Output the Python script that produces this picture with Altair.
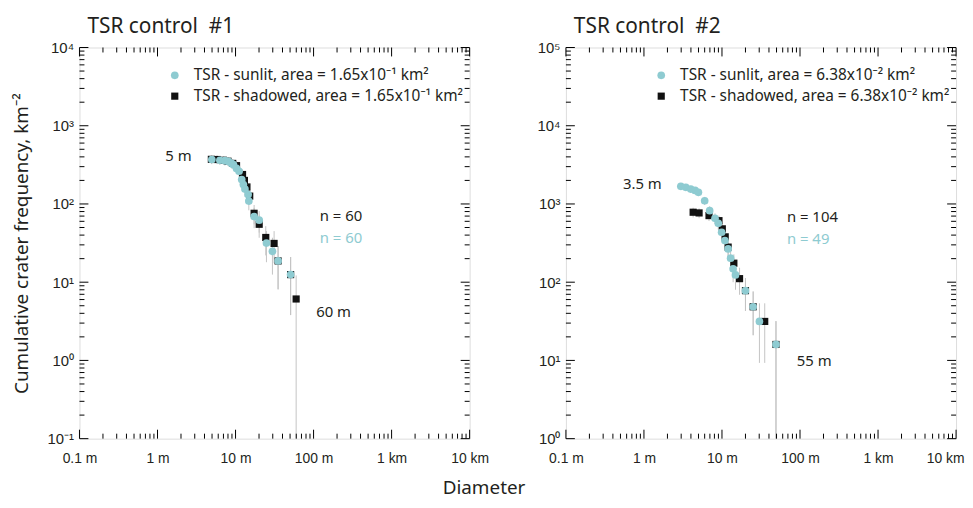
import altair as alt
import pandas as pd

W, H = 393, 394
BLUE = "#8ecbd1"
BLACK = "#111111"
GRAY = "#c4c4c4"
TXT = "#231f20"
TEXT_FONT = "Noto Sans"
TICK_FONT = "Liberation Sans"

# ---------------- axes ----------------
x_major = [0.1, 1, 10, 100, 1000, 10000]
x_labels = ["0.1 m", "1 m", "10 m", "100 m", "1 km", "10 km"]
x_minor = [m * 10.0 ** k for k in range(-1, 4) for m in range(2, 10)]

p1_y_major = [0.1, 1, 10, 100, 1000, 10000]
p1_y_labels = ["10⁻¹", "10⁰", "10¹", "10²", "10³", "10⁴"]
p1_y_minor = [m * 10.0 ** k for k in range(-1, 4) for m in range(2, 10)]

p2_y_major = [1, 10, 100, 1000, 10000, 100000]
p2_y_labels = ["10⁰", "10¹", "10²", "10³", "10⁴", "10⁵"]
p2_y_minor = [m * 10.0 ** k for k in range(0, 5) for m in range(2, 10)]

# ---------------- panel 1 data ----------------
p1_sun_d = [4.97, 6.3, 7.3, 8.1, 8.9, 9.4, 10.3, 11.1, 12.0, 12.6, 13.2, 14.5, 14.8, 17.3, 20.1, 24.9, 29.7, 35.1, 50.8]
p1_sun_n = [370, 362, 358, 350, 330, 318, 285, 262, 205, 177, 155, 132, 109, 69, 62, 31.6, 24.8, 18.7, 12.5]
p1_sun_lo = [323, 315, 311, 304, 285, 274, 243, 222, 170, 144, 124, 104, 83, 49, 43, 18, 12.5, 8.1, 3.8]
p1_sun_hi = [417, 409, 405, 396, 375, 362, 327, 302, 240, 210, 186, 160, 135, 89, 81, 45, 37, 29, 21]

p1_sh_d = [4.9, 5.8, 7.0, 8.0, 9.2, 10.3, 12.3, 13.0, 14.0, 15.2, 17.3, 20.1, 24.4, 31.2, 35.1, 50.8, 59.8]
p1_sh_n = [372, 370, 362, 352, 330, 309, 238, 200, 165, 126, 76, 55, 37.3, 31.3, 18.7, 12.5, 6.1]
p1_sh_lo = [325, 323, 315, 306, 285, 266, 200, 165, 133, 98, 55, 37, 22, 17.5, 8.1, 3.8, 0.01]
p1_sh_hi = [420, 417, 409, 398, 375, 352, 276, 235, 197, 154, 97, 73, 52, 45, 29, 21, 12.2]

# ---------------- panel 2 data ----------------
p2_sun_d = [2.97, 3.44, 3.98, 4.52, 4.99, 6.0, 6.95, 8.14, 8.97, 9.9, 10.9, 12.0, 12.9, 13.9, 14.9, 20.0, 25.1, 30.2, 49.2]
p2_sun_n = [1680, 1630, 1550, 1490, 1410, 1100, 820, 656, 566, 435, 340, 266, 203, 148, 124, 78, 48.5, 31.5, 16.0]
p2_sun_lo = [1518, 1470, 1394, 1337, 1261, 969, 707, 555, 472, 352, 267, 201, 147, 100, 80, 43, 21, 9.3, 0.2]
p2_sun_hi = [1842, 1790, 1706, 1643, 1559, 1231, 933, 757, 660, 518, 413, 331, 259, 196, 168, 113, 76, 53.7, 31.8]

p2_sh_d = [4.27, 5.09, 6.82, 9.15, 10.1, 11.0, 12.0, 14.2, 16.8, 20.0, 25.1, 35.3, 49.2]
p2_sh_n = [784, 768, 710, 612, 481, 380, 281, 175, 111, 78, 48.5, 31.5, 16.0]
p2_sh_lo = [673, 658, 605, 514, 394, 303, 215, 123, 69, 43, 21, 9.3, 0.2]
p2_sh_hi = [895, 878, 815, 710, 568, 457, 347, 227, 153, 113, 76, 53.7, 31.8]

# ---------------- annotations ----------------
p1_notes = [("5 m", 2.74, 414, "right", TXT), ("n = 60", 120, 70, "left", TXT),
            ("n = 60", 120, 36.3, "left", BLUE), ("60 m", 108, 4.17, "left", TXT)]
p2_notes = [("3.5 m", 1.69, 1800, "right", TXT), ("n = 104", 68, 677, "left", TXT),
            ("n = 49", 68, 358, "left", BLUE), ("55 m", 91, 9.9, "left", TXT)]

p1_legend = ["TSR - sunlit, area = 1.65x10⁻¹ km²", "TSR - shadowed, area = 1.65x10⁻¹ km²"]
p2_legend = ["TSR - sunlit, area = 6.38x10⁻² km²", "TSR - shadowed, area = 6.38x10⁻² km²"]


def label_expr(labels, offset):
    arr = "[" + ",".join("'" + l + "'" for l in labels) + "]"
    return f"{arr}[round(log(datum.value)/LN10)+{offset}]"


def make_panel(title, sun, shd, ydom, ymaj, ylab, yoff, ymin, notes, legend, ytitle, xtitle, last_shift):
    xs = alt.Scale(type="log", domain=[0.1, 10000], nice=False)
    ys = alt.Scale(type="log", domain=ydom, nice=False)
    xax_kw = dict(values=x_major, labelExpr=label_expr(x_labels, 1), ticks=False, domain=False,
                  grid=False, labelFontSize=14, labelFont=TICK_FONT, labelColor=TXT,
                  labelPadding=13, labelFlush=False, labelOverlap=False)
    if last_shift:
        xax_kw["labelOffset"] = {"condition": {"test": "datum.value > 5000", "value": last_shift}, "value": 0}
    if xtitle:
        xax_kw.update(title=xtitle, titleX=407, titleY=49, titleAlign="center", titleBaseline="middle",
                      titleFont=TEXT_FONT, titleFontSize=19, titleFontWeight="normal", titleColor=TXT)
    else:
        xax_kw.update(title=None)
    yax_kw = dict(values=ymaj, labelExpr=label_expr(ylab, yoff), ticks=False, domain=False,
                  grid=False, labelFontSize=15, labelFont=TICK_FONT, labelColor=TXT,
                  labelPadding=6, labelOverlap=False, labelFlush=False)
    if ytitle:
        yax_kw.update(title=ytitle, titleX=-58, titleY=H / 2, titleAngle=270, titleAlign="center",
                      titleBaseline="middle", titleFont=TEXT_FONT, titleFontSize=19,
                      titleFontWeight="normal", titleColor=TXT)
    else:
        yax_kw.update(title=None)
    xax = alt.Axis(**xax_kw)
    yax = alt.Axis(**yax_kw)

    def X(f):
        return alt.X(f, type="quantitative", scale=xs, axis=xax)

    def Y(f):
        return alt.Y(f, type="quantitative", scale=ys, axis=yax)

    sd, sn, slo, shi = sun
    hd, hn, hlo, hhi = shd
    err = pd.DataFrame({"d": sd + hd, "lo": slo + hlo, "hi": shi + hhi})
    sun_df = pd.DataFrame({"d": sd, "n": sn})
    sh_df = pd.DataFrame({"d": hd, "n": hn})

    layers = []
    layers.append(alt.Chart(err).mark_rule(color=GRAY, strokeWidth=1, clip=True).encode(
        x=X("d"), y=Y("lo"), y2="hi"))
    layers.append(alt.Chart(sh_df).mark_point(shape="square", filled=True, size=52, color=BLACK,
                                              opacity=1).encode(x=X("d"), y=Y("n")))
    layers.append(alt.Chart(sun_df).mark_circle(size=60, color=BLUE, opacity=1).encode(
        x=X("d"), y=Y("n")))

    # inward ticks on all four sides
    for vals, ln in ((x_major, 9), (x_minor, 5)):
        tdf = pd.DataFrame({"t": vals})
        layers.append(alt.Chart(tdf).mark_rule(color="black", strokeWidth=1).encode(
            x=X("t"), y=alt.value(H), y2=alt.value(H - ln)))
        layers.append(alt.Chart(tdf).mark_rule(color="black", strokeWidth=1).encode(
            x=X("t"), y=alt.value(0), y2=alt.value(ln)))
    for vals, ln in ((ymaj, 9), (ymin, 5)):
        tdf = pd.DataFrame({"t": vals})
        layers.append(alt.Chart(tdf).mark_rule(color="black", strokeWidth=1).encode(
            y=Y("t"), x=alt.value(0), x2=alt.value(ln)))
        layers.append(alt.Chart(tdf).mark_rule(color="black", strokeWidth=1).encode(
            y=Y("t"), x=alt.value(W), x2=alt.value(W - ln)))

    # annotations
    for label, d, n, align, col in notes:
        ndf = pd.DataFrame({"d": [d], "n": [n], "label": [label]})
        layers.append(alt.Chart(ndf).mark_text(align=align, baseline="middle", font=TEXT_FONT,
                                               fontSize=15, color=col).encode(
            x=X("d"), y=Y("n"), text="label:N"))

    # legend
    leg_df = pd.DataFrame({"label": legend})
    layers.append(alt.Chart(pd.DataFrame({"k": [0]})).mark_circle(size=60, color=BLUE, opacity=1).encode(
        x=alt.value(96), y=alt.value(28)))
    layers.append(alt.Chart(pd.DataFrame({"k": [0]})).mark_point(shape="square", filled=True, size=52,
                                                                  color=BLACK, opacity=1).encode(
        x=alt.value(96), y=alt.value(49)))
    layers.append(alt.Chart(leg_df.iloc[[0]]).mark_text(align="left", baseline="middle", font=TEXT_FONT,
                                                        fontSize=15.5, color=TXT).encode(
        x=alt.value(115), y=alt.value(28), text="label:N"))
    layers.append(alt.Chart(leg_df.iloc[[1]]).mark_text(align="left", baseline="middle", font=TEXT_FONT,
                                                        fontSize=15.5, color=TXT).encode(
        x=alt.value(115), y=alt.value(49), text="label:N"))

    return alt.layer(*layers).properties(
        width=W, height=H,
        title=alt.TitleParams(title, anchor="start", frame="group", dx=8, fontSize=21, font=TEXT_FONT,
                              fontWeight="normal", color=TXT, offset=4))


p1 = make_panel("TSR control\u00a0 #1", (p1_sun_d, p1_sun_n, p1_sun_lo, p1_sun_hi),
                (p1_sh_d, p1_sh_n, p1_sh_lo, p1_sh_hi), [0.1, 10000], p1_y_major, p1_y_labels, 1,
                p1_y_minor, p1_notes, p1_legend, "Cumulative crater frequency, km⁻²", "Diameter", 0)
p2 = make_panel("TSR control\u00a0 #2", (p2_sun_d, p2_sun_n, p2_sun_lo, p2_sun_hi),
                (p2_sh_d, p2_sh_n, p2_sh_lo, p2_sh_hi), [1, 100000], p2_y_major, p2_y_labels, 0,
                p2_y_minor, p2_notes, p2_legend, None, None, -11)

chart = alt.hconcat(p1, p2, spacing=97, bounds="flush").properties(
    padding={"left": 4, "top": 5, "right": 0, "bottom": 0}
).configure_view(stroke="black", strokeWidth=1.4).configure(background="white")

chart.save("out.html", embed_options={"renderer": "svg", "actions": False})
